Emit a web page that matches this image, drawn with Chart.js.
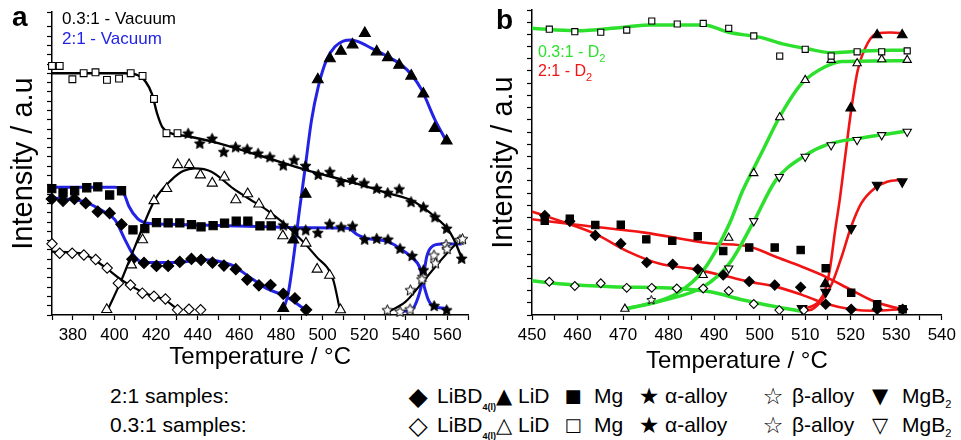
<!DOCTYPE html>
<html lang="en">
<head>
<meta charset="utf-8">
<title>Intensity vs temperature</title>
<script src="https://cdn.jsdelivr.net/npm/chart.js@4.4.1/dist/chart.umd.min.js"></script>
<style>
  html, body { margin: 0; padding: 0; background: #fff; }
  #wrap { position: relative; width: 961px; height: 440px; overflow: hidden; font-family: "Liberation Sans", Arial, sans-serif; color: #000; }
  #wrap canvas { position: absolute; top: 0; }
  .txt { position: absolute; white-space: nowrap; line-height: 1; }
  .sym { position: absolute; font-family: "DejaVu Sans", sans-serif; line-height: 1; transform: translate(-50%, -50%); }
  .txt sub { font-size: 11px; vertical-align: -5px; line-height: 0; }
  .txt sub.small { font-size: 9px; font-weight: bold; vertical-align: -7px; }
</style>
</head>
<body>
<div id="wrap">
  <canvas id="chartA" width="480" height="372" style="left:0"></canvas>
  <canvas id="chartB" width="481" height="376" style="left:480px"></canvas>
</div>
<script>
/* ===== DATA : [temperature °C, intensity a.u.] ===== */
// panel a, 0.3:1 vacuum (black)
const aMg03 = [[370,82.2],[373.7,82.2],[379.8,77.8],[385.2,79.8],[390.9,80.1],[396.4,77.6],[402.2,78.0],[407.8,79.8],[413.5,78.9],[419.0,71.3],[425.0,60.0],[430.3,60.0]];
const aAlpha03 = [[435.4,60.0],[441.0,56.7],[446.9,58.3],[452.5,53.9],[458.2,55.5],[463.8,54.8],[469.0,53.4],[474.7,52.2],[481.1,49.5],[486.3,51.2],[491.8,49.3],[497.9,46.4],[503.5,47.3],[508.8,44.0],[514.4,44.7],[520.0,43.6],[526.0,41.8],[531.3,40.4],[536.8,41.6],[542.5,37.4],[548.4,35.7],[554.0,32.4],[559.6,28.6],[566.8,18.7]];
const aLiD03 = [[396.3,1.8],[408.2,16.5],[413.5,24.8],[419.0,37.7],[425.1,41.7],[430.4,49.6],[435.9,49.6],[441.3,46.2],[447.0,43.5],[452.8,45.5],[458.3,38.0],[464.0,40.0],[469.4,36.6],[475.1,32.7],[480.9,26.1],[492.0,23.7],[497.4,15.1],[503.4,13.1],[508.6,1.7]];
const aLiBD03 = [[370,23.5],[373.7,20.4],[379.7,20.4],[385.3,19.8],[391.0,18.3],[396.5,15.5],[401.9,10.5],[407.7,9.9],[413.4,7.2],[419.0,6.2],[424.5,5.3],[430.3,1.7],[435.8,1.9],[441.4,1.7]];
const aBeta03 = [[531.1,1.7],[542.2,8.3],[547.7,11.9],[554.2,17.2],[559.8,21.9],[567.2,25.2]];
// panel a, 2:1 vacuum (blue)
const aMg21 = [[369.9,41.7],[375.3,40.3],[380.9,41.0],[386.7,42.0],[392.0,42.3],[397.7,39.6],[403.4,41.0],[408.9,28.1],[414.6,28.5],[420.2,30.5],[425.8,30.4],[431.4,30.4],[437.0,29.8],[441.6,29.1],[447.4,29.5],[452.9,30.3],[458.5,31.0],[464.1,31.0],[469.9,29.4],[475.3,29.4]];
const aAlpha21 = [[481.1,29.7],[486.7,28.1],[491.9,28.1],[497.7,27.2],[503.4,30.1],[508.9,29.1],[514.4,29.4],[520.2,25.0],[526.0,25.3],[531.4,25.0],[537.2,22.0],[543.0,19.6],[548.4,14.9],[553.6,3.1],[559.6,1.7]];
const aLiBD21 = [[369.9,38.3],[375.3,37.7],[380.8,38.3],[386.2,36.9],[392.0,34.1],[397.7,33.6],[403.4,29.9],[408.6,18.4],[414.2,17.2],[420.2,16.2],[425.8,16.2],[431.4,17.5],[437.0,18.5],[441.6,18.2],[447.1,17.3],[452.6,16.3],[458.3,15.1],[463.8,11.7],[469.4,9.8],[475.0,9.9],[481.1,7.0],[486.7,5.5],[492.1,1.7]];
const aLiD21 = [[481.1,2.2],[485.9,24.8],[491.8,39.9],[497.7,77.7],[503.5,84.6],[508.8,87.1],[514.4,89.2],[520.3,93.0],[526.0,86.9],[531.4,85.0],[536.8,82.5],[542.6,78.9],[548.4,73.0],[553.8,61.6],[559.6,57.5]];
const aBeta21 = [[537.2,1.2],[542.0,2.0],[548.2,12.7],[553.5,19.8],[559.3,23.3],[566.0,24.9]];
// panel a fitted curves
const aFitMg03 = [[370,79.8],[405,79.8],[411,79.2],[415,77],[418,73],[420.5,66.5],[423,62],[427,60],[435,59],[447,57.2],[469,52.8],[491.5,48],[515.5,43.5],[531.5,40.2],[543,37.8],[548,35.6],[554,32.4],[560.4,28.1],[563.6,24.2],[567,18.5]];
const aFitLiD03 = [[396.8,1.7],[403.4,11.6],[409.8,22.5],[419.4,38.0],[427.4,44.6],[433,47.5],[438.6,48.4],[446.6,47.3],[457,41.8],[465,38.2],[473.1,34.7],[485.9,27.5],[497.1,19.2],[505.1,11.6],[508.3,1.7]];
const aFitLiBD03 = [[370,20.9],[385,20.1],[395,16],[403.4,11.6],[414.6,7.2],[424.2,5.0],[430.6,1.7]];
const aFitBeta03 = [[530.3,0.6],[539.9,4.4],[547.6,10.5],[555.6,17.1],[563.6,23.1],[567.6,25.3]];
const aFitMg21 = [[370,42.2],[400.5,42.2],[404.5,40.2],[407,35.8],[411,31.9],[416,30.3],[430,29.9],[450,29.5],[473,29.1],[495,28.8],[512,28.6],[517,26.4],[521,25.3],[531.5,24.2],[537,22.0],[542.8,19.0],[546.8,15.4],[548.4,10.5],[550.8,5.0],[554,2.7],[560.4,2.2]];
const aFitLiBD21 = [[370,38.6],[385,37.5],[394.7,34.2],[400.3,31.4],[405.1,24.8],[409.1,19.8],[413.9,17.3],[429.9,17.3],[441.5,18.2],[456.2,16.5],[464.2,12.9],[473.1,8.8],[482.7,6.0],[490.7,2.2]];
const aFitLiD21 = [[481.1,1.7],[483.5,7.2],[485.9,18.2],[488.9,34.7],[491.5,47.9],[494.7,64.4],[497.9,75.3],[501.9,84.2],[505.9,88.5],[509.9,90.4],[513.9,90.8],[517.1,90.2],[523.6,88.0],[531.5,85.2],[538,82.5],[542.8,79.2],[547.6,74.3],[554,64.4],[559.6,57.2]];
const aFitBeta21 = [[536.3,1.1],[542.8,1.7],[546,6.0],[548.4,12.6],[550,19.2],[552.4,22.5],[557.2,23.4],[566.8,23.4]];

// panel b, 0.3:1 D2 (green)
const bMg03 = [[453.8,93.7],[459.4,92.9],[465.1,92.7],[470.8,93.4],[476.3,96.4],[481.9,95.4],[487.6,95.6],[493.2,94.0],[498.7,91.5],[504.4,84.9],[510.0,87.1],[515.7,84.9],[521.4,86.3],[526.8,86.3],[532.4,86.6]];
const bLiD03 = [[470.4,2.0],[487.6,13.1],[493.2,25.3],[498.7,46.5],[504.4,64.8],[510.0,77.0],[515.7,83.6],[521.4,82.5],[526.8,83.8],[532.4,83.6]];
const bMgB03 = [[493.2,15.3],[498.7,30.8],[504.3,45.3],[510.0,51.9],[515.7,55.7],[521.4,57.4],[526.8,59.0],[532.4,60.1]];
const bLiBD03 = [[453.8,10.9],[459.4,9.5],[465.1,10.4],[470.8,8.9],[476.3,8.9],[481.8,8.7],[487.6,8.7],[493.2,7.9],[498.7,3.6],[504.3,1.6],[509.7,1.6]];
const bBeta03 = [[476.2,5.1]];
// panel b, 2:1 D2 (red)
const bMg21 = [[452.8,30.9],[458.3,31.6],[463.9,29.5],[469.5,29.6],[475.1,24.8],[480.8,24.3],[486.4,25.8],[492.0,21.0],[497.7,22.1],[503.3,22.1],[509.0,21.3],[514.5,15.3],[520.1,7.3],[525.8,3.5],[531.4,1.9]];
const bLiBD21 = [[452.8,32.6],[458.3,30.7],[463.9,26.1],[469.5,23.4],[475.2,17.2],[480.9,16.6],[486.4,15.0],[492.0,13.1],[497.7,11.0],[503.3,9.8],[509.0,9.1],[514.5,3.5],[520.1,1.9],[525.8,1.9],[531.4,1.9]];
const bLiD21 = [[514.4,10.2],[520.0,67.8],[525.8,91.8],[531.3,91.8]];
const bMgB21 = [[509.3,2.2],[514.5,7.5],[520.1,28.4],[525.8,42.6],[531.3,43.7]];
// panel b fitted curves
const bFitMg03 = [[450,94.0],[459.6,93.2],[469.7,94.3],[476.2,95.1],[487.7,95.1],[493.4,92.6],[499.9,91.1],[505,88.9],[510.7,87.2],[515.8,86.0],[521.6,86.5],[532.4,86.9]];
const bFitLiD03 = [[470.4,2.0],[476.2,3.8],[481.9,7.1],[487.7,14.8],[493.4,30.1],[496.3,40.9],[498.5,47.5],[500.7,54],[504.4,65],[509.3,76.0],[514.4,81.4],[518.0,83.1],[532.4,83.4]];
const bFitMgB03 = [[470.4,2.0],[479.1,4.9],[487.7,9.3],[493.4,17.0],[498.5,30.1],[503.6,44.3],[510,52.3],[515.1,56.0],[521.6,57.9],[532.4,60.3]];
const bFitLiBD03 = [[450,11.2],[456.7,10.2],[467.5,9.3],[481.9,8.7],[489.1,7.6],[496.4,4.9],[503.6,2.7],[509.7,1.1]];
const bFitMg21 = [[450,31.4],[460.3,29.5],[474.7,27.0],[489.1,23.5],[497.8,22.4],[503.5,19.1],[509.3,15.8],[514.4,12.6],[520.1,8.2],[525.2,4.4],[531,1.9]];
const bFitLiBD21 = [[450,33.9],[456.7,30.6],[463.9,26.6],[471.1,20.8],[478.3,16.7],[485,15.2],[492.9,12.6],[497.8,10.9],[503.5,9.3],[509.3,6.6],[514.4,3.8],[520.1,1.9],[525.2,1.4],[531,1.9]];
const bFitLiD21 = [[509.4,1.9],[513.0,4.4],[514.4,8.2],[515.5,15.8],[516.5,27],[517.6,38],[518.7,51],[520.1,67.2],[521.5,80],[523.7,89.1],[525.9,92.4],[528.8,92.6],[531.6,92.4]];
const bFitMgB21 = [[509.5,1.6],[510.8,1.6],[513.7,4.9],[515.9,10.4],[518.0,19.1],[520.1,29.0],[522.3,36.6],[525.2,41.5],[528.0,43.7],[531.3,44.3]];

// legend
const LEGEND_ROWS = ["2:1 samples:", "0.3:1 samples:"];
const LEGEND_NAMES = ["LiBD", "LiD", "Mg", "α-alloy", "β-alloy", "MgB"];
const LEGEND_SUBS = ["4(l)", "", "", "", "", "2"];
const LEGEND_SYMBOLS = [
  ["◆", "▲", "■", "★", "☆", "▼"],
  ["◇", "△", "□", "★", "☆", "▽"],
];

/* ===== STYLE ===== */
const BLUE = "#2323e6";
const GREEN = "#2ee02e";
const RED = "#f01414";
const SANS = "'Liberation Sans', Arial, sans-serif";
const NARROW = "'Liberation Sans Narrow', 'Arial Narrow', 'Liberation Sans', sans-serif";

/* ===== HELPERS ===== */
const xy = (arr) => arr.map((p) => ({ x: p[0], y: p[1] }));

function starImage(size, filled) {
  const c = document.createElement("canvas");
  c.width = c.height = size;
  const g = c.getContext("2d");
  const r = size / 2 - 0.8;
  const ri = r * 0.45;
  g.beginPath();
  for (let i = 0; i < 10; i++) {
    const rr = i % 2 ? ri : r;
    const a = -Math.PI / 2 + (i * Math.PI) / 5;
    g.lineTo(size / 2 + rr * Math.cos(a), size / 2 + 0.6 + rr * Math.sin(a));
  }
  g.closePath();
  g.fillStyle = filled ? "#000" : "#fff";
  g.fill();
  g.lineWidth = 1;
  g.strokeStyle = "#000";
  g.stroke();
  return c;
}

const STAR = starImage(13, true);
const STAR_OPEN = starImage(13, false);
const STAR_OPEN_SMALL = starImage(11, false);

function marks(data, style, filled, r, rot) {
  return {
    data: xy(data),
    showLine: false,
    order: 0,
    clip: false,
    pointStyle: style,
    pointRotation: rot || 0,
    pointRadius: r,
    pointHoverRadius: r,
    pointBackgroundColor: filled ? "#000" : "#fff",
    pointBorderColor: "#000",
    pointBorderWidth: 1.1,
  };
}

function fit(data, color, w) {
  return {
    data: xy(data),
    showLine: true,
    order: 1,
    borderColor: color,
    borderWidth: w,
    pointRadius: 0,
    pointHoverRadius: 0,
    cubicInterpolationMode: "monotone",
    fill: false,
  };
}

function makeChart(id, cfg) {
  return new Chart(document.getElementById(id), {
    type: "scatter",
    data: { datasets: cfg.datasets },
    options: {
      responsive: false,
      animation: false,
      devicePixelRatio: 1,
      events: [],
      layout: { padding: { top: cfg.top, right: cfg.right, left: 0, bottom: 0 } },
      plugins: { legend: { display: false }, tooltip: { enabled: false } },
      scales: {
        x: {
          type: "linear",
          min: cfg.xMin,
          max: cfg.xMax,
          afterFit: (s) => { s.height = cfg.xHeight; },
          border: { display: true, color: "#000", width: 1.5 },
          grid: { drawOnChartArea: false, drawTicks: true, tickLength: 5, tickColor: "#000", tickWidth: 1.2 },
          ticks: {
            stepSize: cfg.xStep,
            autoSkip: false,
            maxRotation: 0,
            padding: 5,
            color: "#000",
            font: { family: NARROW, size: 17 },
            callback: (v) => (Math.round(v) % cfg.labelEvery === 0 ? String(Math.round(v)) : ""),
          },
          title: {
            display: true,
            text: "Temperature / °C",
            color: "#000",
            font: { family: SANS, size: 24 },
            padding: { top: 0, bottom: 0 },
          },
        },
        y: {
          type: "linear",
          min: 0,
          max: 100,
          afterFit: (s) => { s.width = 52; },
          border: { display: true, color: "#000", width: 1.5 },
          grid: { drawOnChartArea: false, drawTicks: true, tickLength: 5, tickColor: "#000", tickWidth: 1.2 },
          ticks: { stepSize: cfg.yStep, autoSkip: false, font: { size: 8 }, callback: () => "" },
          title: {
            display: true,
            text: "Intensity / a.u",
            color: "#000",
            font: { family: SANS, size: 29 },
            padding: { top: 7, bottom: 0 },
          },
        },
      },
    },
  });
}

/* ===== CHART A ===== */
makeChart("chartA", {
  xMin: 370, xMax: 570, xStep: 10, labelEvery: 20, yStep: 100 / 32.6,
  top: 12, right: 11.7, xHeight: 57,
  datasets: [
    marks(aMg03, "rect", false, 4.8),
    marks(aAlpha03, STAR, true, 6),
    marks(aLiD03, "triangle", false, 5.8),
    marks(aLiBD03, "rectRot", false, 5.2),
    marks(aBeta03, STAR_OPEN, false, 6),
    marks(aMg21, "rect", true, 5.8),
    marks(aAlpha21, STAR, true, 6),
    marks(aLiBD21, "rectRot", true, 5.6),
    marks(aLiD21, "triangle", true, 6.3),
    marks(aBeta21, STAR_OPEN, false, 6),
    fit(aFitMg03, "#000", 2.4),
    fit(aFitLiD03, "#000", 2.2),
    fit(aFitLiBD03, "#000", 2.2),
    fit(aFitBeta03, "#000", 2.2),
    fit(aFitMg21, BLUE, 3),
    fit(aFitLiBD21, BLUE, 3),
    fit(aFitLiD21, BLUE, 3),
    fit(aFitBeta21, BLUE, 3),
  ],
});

/* ===== CHART B ===== */
makeChart("chartB", {
  xMin: 450, xMax: 540, xStep: 5, labelEvery: 10, yStep: 4,
  top: 10, right: 12.5, xHeight: 61,
  datasets: [
    marks(bMg03, "rect", false, 4.3),
    marks(bLiD03, "triangle", false, 4.8),
    marks(bMgB03, "triangle", false, 4.8, 180),
    marks(bLiBD03, "rectRot", false, 4.4),
    marks(bBeta03, STAR_OPEN_SMALL, false, 5),
    marks(bMg21, "rect", true, 5.2),
    marks(bLiBD21, "rectRot", true, 5),
    marks(bLiD21, "triangle", true, 5.6),
    marks(bMgB21, "triangle", true, 5.6, 180),
    fit(bFitMg03, GREEN, 3.5),
    fit(bFitLiD03, GREEN, 3.5),
    fit(bFitMgB03, GREEN, 3.5),
    fit(bFitLiBD03, GREEN, 3.5),
    fit(bFitMg21, RED, 2.6),
    fit(bFitLiBD21, RED, 2.6),
    fit(bFitLiD21, RED, 2.6),
    fit(bFitMgB21, RED, 2.6),
  ],
});

/* ===== TEXT OVERLAYS ===== */
const wrap = document.getElementById("wrap");

function addText(html, left, top, size, extra) {
  const d = document.createElement("div");
  d.className = "txt";
  d.innerHTML = html;
  d.style.left = left + "px";
  d.style.top = top + "px";
  d.style.fontSize = size + "px";
  Object.assign(d.style, extra || {});
  wrap.appendChild(d);
  return d;
}

function addSymbol(ch, cx, cy, size) {
  const d = document.createElement("div");
  d.className = "sym";
  d.textContent = ch;
  d.style.left = cx + "px";
  d.style.top = cy + "px";
  d.style.fontSize = size + "px";
  wrap.appendChild(d);
}

addText("a", 12, 3, 28, { fontWeight: "bold" });
addText("b", 496, 6, 28, { fontWeight: "bold" });
addText("0.3:1 - Vacuum", 62, 10, 17);
addText("2:1 - Vacuum", 62, 30, 17, { color: BLUE });
addText("0.3:1 - D<sub>2</sub>", 538, 44, 16, { color: GREEN });
addText("2:1 - D<sub>2</sub>", 538, 63, 16, { color: RED });

const symX = [418, 504, 573, 649, 773, 880];
const symSize = [25, 21, 18, 23, 23, 21];
const nameX = [437, 518, 594, 665, 792, 902];
const rowBase = [403, 432];

LEGEND_ROWS.forEach((row, r) => {
  addText(row, 110, rowBase[r] - 18, 21);
  LEGEND_NAMES.forEach((name, i) => {
    addSymbol(LEGEND_SYMBOLS[r][i], symX[i], rowBase[r] - 7, symSize[i]);
    const sub = LEGEND_SUBS[i] ? `<sub class="${i === 0 ? "small" : ""}">${LEGEND_SUBS[i]}</sub>` : "";
    addText(name + sub, nameX[i], rowBase[r] - 18, 21);
  });
});
</script>
</body>
</html>
